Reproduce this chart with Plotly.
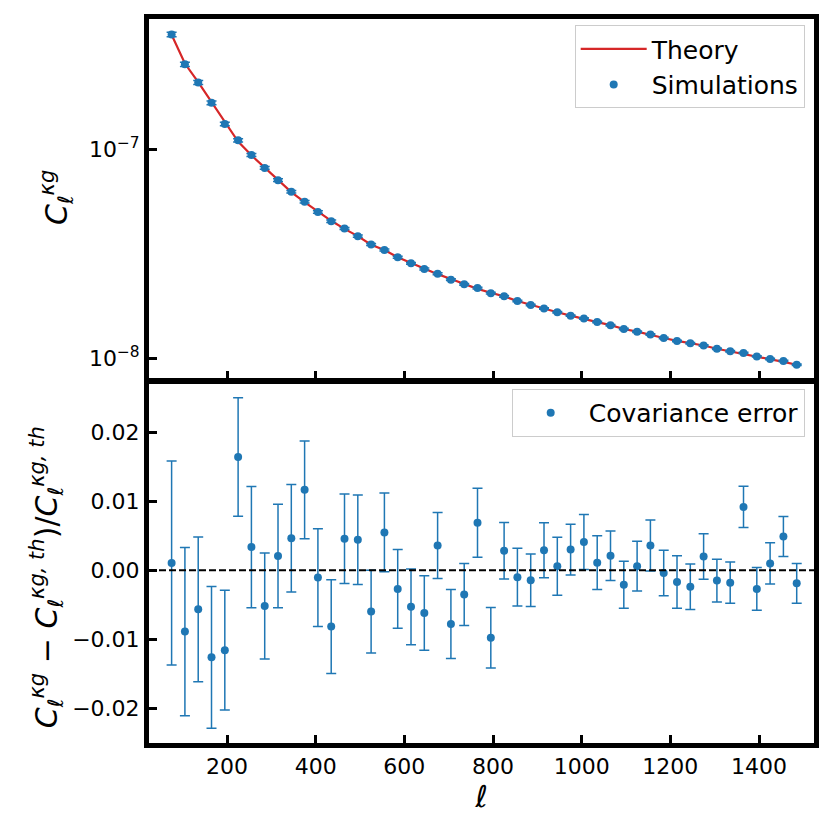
import plotly.graph_objects as go
from plotly.subplots import make_subplots

# multipoles (bin centres)
ell = [75, 105, 135, 165, 195, 225, 255, 285, 315, 345, 375, 405, 435, 465, 495, 525,
       555, 585, 615, 645, 675, 705, 735, 765, 795, 825, 855, 885, 915, 945, 975, 1005,
       1035, 1065, 1095, 1125, 1155, 1185, 1215, 1245, 1275, 1305, 1335, 1365, 1395, 1425,
       1455, 1485]

# C_ell^{kappa g} in units of 1e-8
cl_theory = [35.6, 25.9, 21.1, 17.0, 13.5, 10.95, 9.40, 8.22, 7.13, 6.26, 5.61, 5.04,
             4.56, 4.17, 3.85, 3.50, 3.30, 3.05, 2.86, 2.69, 2.53, 2.40, 2.27, 2.15,
             2.06, 1.98, 1.88, 1.80, 1.72, 1.66, 1.60, 1.54, 1.49, 1.44, 1.38, 1.34,
             1.29, 1.25, 1.21, 1.18, 1.15, 1.11, 1.08, 1.05, 1.02, 0.99, 0.96, 0.93]
cl_sim = [35.7, 25.7, 21.0, 16.8, 13.3, 11.1, 9.43, 8.18, 7.14, 6.29, 5.63, 5.03,
          4.54, 4.19, 3.85, 3.51, 3.30, 3.05, 2.85, 2.68, 2.54, 2.38, 2.26, 2.17,
          2.05, 1.98, 1.88, 1.80, 1.73, 1.66, 1.60, 1.55, 1.49, 1.44, 1.38, 1.34,
          1.30, 1.25, 1.21, 1.18, 1.15, 1.11, 1.08, 1.06, 1.02, 0.99, 0.97, 0.93]
cl_sim_err = [0.9, 0.6, 0.45, 0.35, 0.26, 0.2, 0.16, 0.13, 0.11, 0.09, 0.08, 0.07,
              0.06, 0.05, 0.045, 0.04, 0.037, 0.033, 0.03, 0.028, 0.026, 0.024, 0.022, 0.02,
              0.019, 0.018, 0.017, 0.016, 0.015, 0.014, 0.013, 0.013, 0.012, 0.012, 0.011, 0.011,
              0.010, 0.010, 0.010, 0.009, 0.009, 0.009, 0.008, 0.008, 0.008, 0.008, 0.007, 0.007]

# relative deviation (sim - th)/th and covariance error
rel_diff = [0.00106, -0.0089, -0.00567, -0.01264, -0.01159, 0.01644, 0.00337, -0.00519,
            0.00207, 0.00466, 0.01168, -0.00106, -0.00817, 0.00457, 0.00442, -0.0060,
            0.0055, -0.0027, -0.0053, -0.0062, 0.0036, -0.0078, -0.0035, 0.0069,
            -0.0098, 0.00284, -0.0010, -0.00144, 0.0029, 0.00058, 0.0030, 0.0041,
            0.0011, 0.0021, -0.0021, 0.0006, 0.0036, -0.0004, -0.0017, -0.0024,
            0.0020, -0.0015, -0.0018, 0.0092, -0.0027, 0.0010, 0.0049, -0.0019]
rel_err = [0.0148, 0.0122, 0.0105, 0.0103, 0.0087, 0.0086, 0.0088, 0.0077,
           0.0075, 0.0078, 0.0071, 0.0071, 0.0068, 0.0065, 0.0065, 0.0060,
           0.0057, 0.0057, 0.0055, 0.0054, 0.0048, 0.0050, 0.0045, 0.0050,
           0.0044, 0.0041, 0.0042, 0.0038, 0.0040, 0.0042, 0.0037, 0.0040,
           0.0039, 0.0036, 0.0034, 0.0036, 0.0037, 0.0033, 0.0038, 0.0033,
           0.0033, 0.0031, 0.0030, 0.0030, 0.0031, 0.0030, 0.0029, 0.0029]

x_ticks = [200, 400, 600, 800, 1000, 1200, 1400]

blue = '#1f77b4'
red = '#d62728'
font = 'DejaVu Sans'

fig = make_subplots(rows=2, cols=1, shared_xaxes=True, vertical_spacing=0)

fig.add_trace(go.Scatter(
    x=ell, y=[v * 1e-8 for v in cl_theory], mode='lines', name='Theory',
    line=dict(color=red, width=2.2), legend='legend'), row=1, col=1)

fig.add_trace(go.Scatter(
    x=ell, y=[v * 1e-8 for v in cl_sim], mode='markers', name='Simulations',
    marker=dict(color=blue, size=8),
    error_y=dict(type='data', array=[e * 1e-8 for e in cl_sim_err], color=blue,
                 thickness=1.5, width=5),
    legend='legend'), row=1, col=1)

fig.add_trace(go.Scatter(
    x=ell, y=rel_diff, mode='markers', name='Covariance error',
    marker=dict(color=blue, size=8),
    error_y=dict(type='data', array=rel_err, color=blue, thickness=1.5, width=5),
    legend='legend2'), row=2, col=1)

# zero line
fig.add_shape(type='line', xref='x2 domain', yref='y2', x0=0, x1=1, y0=0, y1=0,
              line=dict(color='black', width=2, dash='7px,3px'))

axis_style = dict(showline=True, linecolor='black', linewidth=5, mirror=True,
                  ticks='inside', ticklen=8, tickwidth=3, tickcolor='black',
                  showgrid=False, zeroline=False,
                  tickfont=dict(family=font, size=22, color='black'))

fig.update_xaxes(**axis_style, range=[24, 1524], tickvals=x_ticks)
fig.update_xaxes(showticklabels=False, row=1, col=1)
fig.update_xaxes(title=dict(text='<i>ℓ</i>', font=dict(family=font, size=30, color='black'),
                            standoff=0), row=2, col=1)
fig.update_yaxes(**axis_style)
fig.update_yaxes(type='log', range=[-8.099, -6.373], tickvals=[1e-8, 1e-7],
                 ticktext=['10<sup>−8</sup>', '10<sup>−7</sup>'], row=1, col=1)
fig.update_yaxes(range=[-0.02507, 0.02716], tickvals=[-0.02, -0.01, 0.0, 0.01, 0.02],
                 tickformat='.2f', row=2, col=1)

legend_style = dict(xanchor='right', yanchor='top', bgcolor='white',
                    bordercolor='#cccccc', borderwidth=1, itemwidth=66,
                    font=dict(family=font, size=25, color='black'))

fig.update_layout(
    width=822, height=822,
    margin=dict(l=141, r=16, t=6, b=87),
    plot_bgcolor='white', paper_bgcolor='white',
    font=dict(family=font, color='black'),
    yaxis=dict(domain=[0.503, 1]),
    yaxis2=dict(domain=[0, 0.497]),
    legend=dict(x=0.986, y=0.9915, **legend_style),
    legend2=dict(x=0.986, y=0.489, **legend_style),
    annotations=[
        dict(text='<i>C</i><sub><i>ℓ</i></sub><sup><i>κg</i></sup>', xref='paper', yref='paper',
             x=-0.139, y=0.7535, xanchor='center', yanchor='middle', textangle=-90,
             showarrow=False, font=dict(family=font, size=30, color='black')),
        dict(text='<i>C</i><sub><i>ℓ</i></sub><sup><i>κg</i></sup> − <i>C</i><sub><i>ℓ</i></sub>'
                  '<sup><i>κg, th</i></sup>)/<i>C</i><sub><i>ℓ</i></sub><sup><i>κg, th</i></sup>',
             xref='paper', yref='paper',
             x=-0.154, y=0.2285, xanchor='center', yanchor='middle', textangle=-90,
             showarrow=False, font=dict(family=font, size=30, color='black')),
    ],
)

fig.write_html('out.html')
